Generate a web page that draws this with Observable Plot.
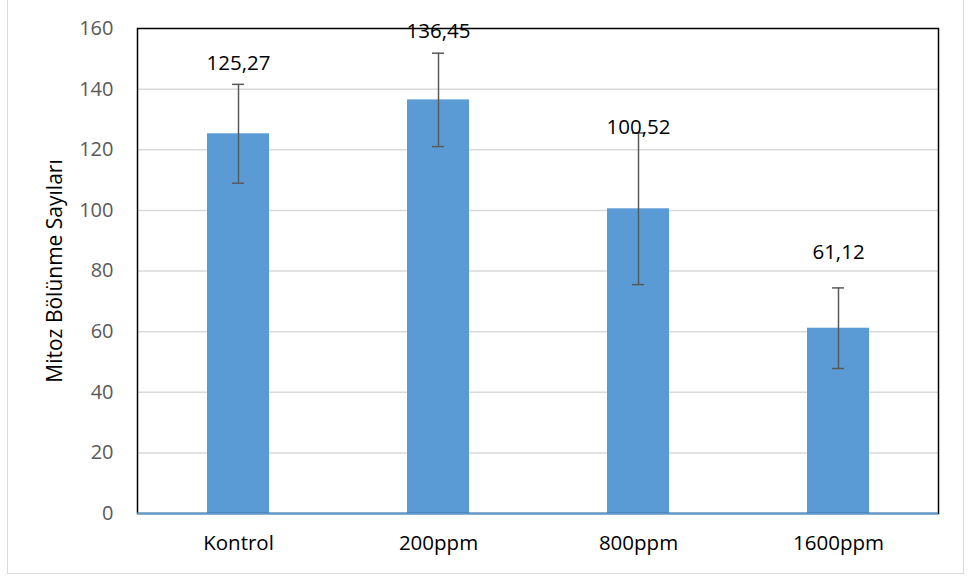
<!DOCTYPE html>
<html>
<head>
<meta charset="utf-8">
<script src="https://cdn.jsdelivr.net/npm/d3@7"></script>
<script src="https://cdn.jsdelivr.net/npm/@observablehq/plot@0.6"></script>
<style>
  html, body { margin: 0; padding: 0; background: #fff; }
  #wrap { position: relative; width: 968px; height: 579px; }
  #border { position: absolute; left: 7px; top: -2px; width: 957px; height: 576px; border: 1px solid #d9d9d9; box-sizing: border-box; pointer-events: none; }
</style>
</head>
<body>
<div id="wrap"><div id="border"></div></div>
<script>
const categories = ["Kontrol", "200ppm", "800ppm", "1600ppm"];
const means = [125.27, 136.45, 100.52, 61.12];
const errors = [16.3, 15.4, 25.0, 13.3];
const valueLabels = ["125,27", "136,45", "100,52", "61,12"];
const labelAt = [148.5, 159.1, 127.3, 86.0];
const yTicks = [0, 20, 40, 60, 80, 100, 120, 140, 160];

const data = categories.map((c, i) => ({
  cat: c, mean: means[i], lo: means[i] - errors[i], hi: means[i] + errors[i],
  label: valueLabels[i], ly: labelAt[i]
}));

const font = "'Open Sans', 'DejaVu Sans', sans-serif";

const chart = Plot.plot({
  width: 968,
  height: 579,
  marginLeft: 137,
  marginRight: 30,
  marginTop: 28,
  marginBottom: 66,
  style: { fontFamily: font, fontSize: "20px", background: "transparent", overflow: "visible" },
  x: { domain: categories, paddingInner: 0.69, paddingOuter: 0.345, label: null },
  y: { domain: [0, 160], ticks: yTicks, label: null },
  marks: [
    Plot.gridY(yTicks.filter(d => d > 0 && d < 160), { stroke: "#d9d9d9", strokeOpacity: 1, strokeWidth: 1.5 }),
    Plot.barY(data, { x: "cat", y: "mean", fill: "#5b9bd5" }),
    Plot.ruleX(data, { x: "cat", y1: "lo", y2: "hi", stroke: "#595959", strokeWidth: 1.5 }),
    Plot.tickY(data, { x: "cat", y: "lo", stroke: "#595959", strokeWidth: 1.5, insetLeft: 25, insetRight: 25 }),
    Plot.tickY(data, { x: "cat", y: "hi", stroke: "#595959", strokeWidth: 1.5, insetLeft: 25, insetRight: 25 }),
    Plot.text(data, { x: "cat", y: "ly", text: "label", fill: "#000", fontSize: 20.5, fontFamily: font }),
    Plot.frame({ stroke: "#000", strokeWidth: 1.5 }),
    Plot.ruleY([0], { stroke: "#5b9bd5", strokeWidth: 2 }),
    Plot.axisY({ ticks: yTicks, tickSize: 0, tickPadding: 24, fill: "#595959", fontSize: 20, label: null }),
    Plot.axisX({ tickSize: 0, tickPadding: 22, fill: "#000", fontSize: 20.5, label: null }),
    Plot.text(["Mitoz Bölünme Sayıları"], { frameAnchor: "left", textAnchor: "middle", dx: -82, rotate: -90, fill: "#000", fontSize: 21, fontFamily: font })
  ]
});
document.getElementById("wrap").prepend(chart);
</script>
</body>
</html>
